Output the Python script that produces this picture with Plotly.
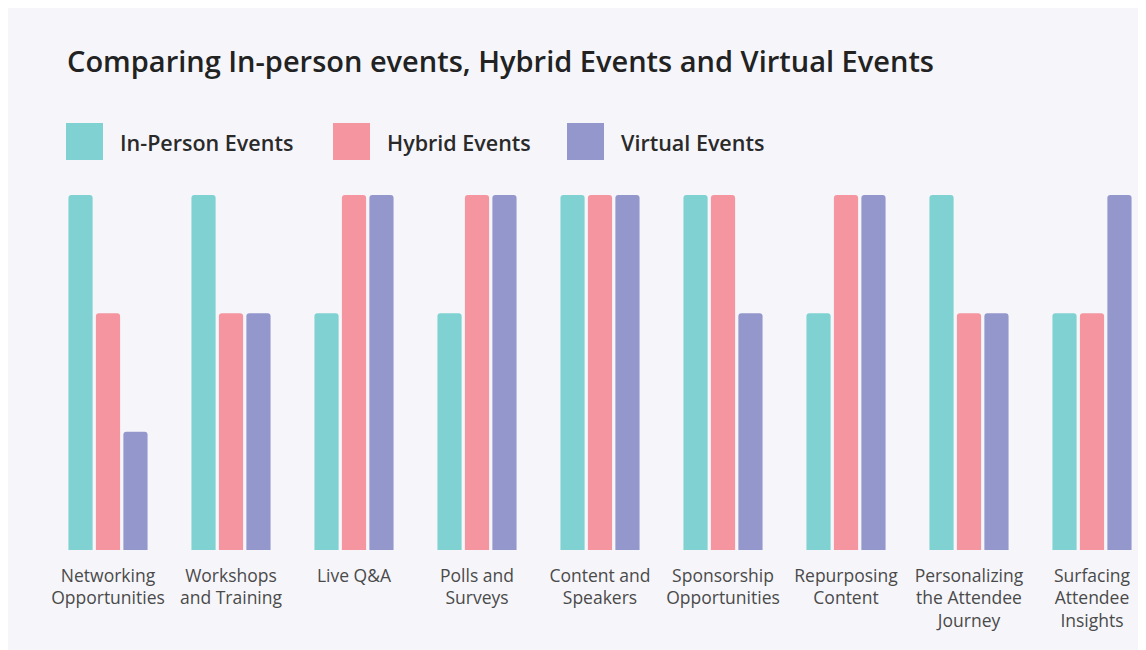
import plotly.graph_objects as go

# --- Data (3 = strong, 2 = medium, 1 = weak) ---
categories = [
    "Networking<br>Opportunities",
    "Workshops<br>and Training",
    "Live Q&A",
    "Polls and<br>Surveys",
    "Content and<br>Speakers",
    "Sponsorship<br>Opportunities",
    "Repurposing<br>Content",
    "Personalizing<br>the Attendee<br>Journey",
    "Surfacing<br>Attendee<br>Insights",
]
in_person = [3, 3, 2, 2, 3, 3, 2, 3, 2]
hybrid = [2, 2, 3, 3, 3, 3, 3, 2, 2]
virtual = [1, 2, 3, 3, 3, 2, 3, 2, 3]

series_names = ["In-Person Events", "Hybrid Events", "Virtual Events"]
series_values = [in_person, hybrid, virtual]
colors = ["#7fd2d1", "#f5959f", "#9497cc"]

# page has an 8px body margin, so the figure starts at (8, 8) on screen
OFF = 8
W, H = 1146 - OFF, 650 - OFF


def px(x):
    # screen x -> paper x
    return (x - OFF) / W


def py(y):
    # screen y -> paper y
    return 1 - (y - OFF) / H


fig = go.Figure()
for name, vals, col in zip(series_names, series_values, colors):
    fig.add_trace(go.Bar(
        x=categories, y=vals, name=name,
        marker=dict(color=col, line=dict(width=0)),
        hoverinfo="x+y+name",
    ))

# --- Hand-made legend with big squares (plotly caps legend symbol size) ---
legend_x = [66, 333, 567]
shapes = []
annotations = []
for lx, name, col in zip(legend_x, series_names, colors):
    shapes.append(dict(type="rect", xref="paper", yref="paper",
                       x0=px(lx), x1=px(lx + 37), y0=py(160), y1=py(123),
                       fillcolor=col, line=dict(width=0)))
    annotations.append(dict(x=px(lx + 52), y=py(143), xref="paper", yref="paper",
                            text=name, showarrow=False, xanchor="left", yanchor="middle",
                            font=dict(family="Open Sans", size=21.5, color="#2a2a2a", weight=600)))

# category 0 centred at screen x=108, 123 px per category
unit = 123
x_left = -(108 - OFF) / unit
x_right = x_left + W / unit

fig.update_layout(
    width=W, height=H,
    margin=dict(l=0, r=0, t=0, b=0),
    paper_bgcolor="#f6f6fa",
    plot_bgcolor="rgba(0,0,0,0)",
    title=dict(text="Comparing In-person events, Hybrid Events and Virtual Events",
               x=px(67), xanchor="left", xref="paper",
               y=py(62), yanchor="middle", yref="container",
               font=dict(family="Open Sans", size=29, color="#222222", weight=600)),
    barmode="group",
    bargap=0.33,
    bargroupgap=0.12,
    barcornerradius=3,
    showlegend=False,
    shapes=shapes,
    annotations=annotations,
    xaxis=dict(range=[x_left, x_right], showgrid=False, zeroline=False, showline=False,
               ticks="", ticklabelstandoff=13,
               tickfont=dict(family="Open Sans", size=17.5, color="#4a4a4a")),
    yaxis=dict(range=[0, 3], domain=[py(550), py(195)], visible=False),
)

fig.write_html("out.html")
